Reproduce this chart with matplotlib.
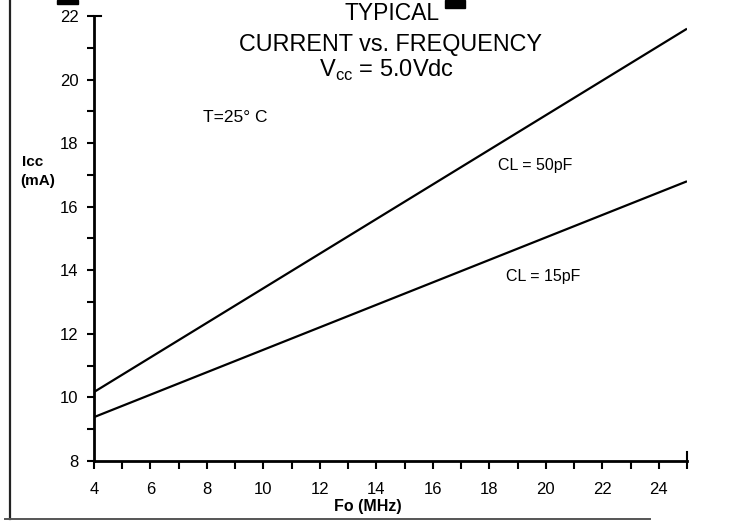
import numpy as np
import matplotlib
matplotlib.use('Agg')
import matplotlib.pyplot as plt
from matplotlib.lines import Line2D
from matplotlib.patches import Rectangle

plt.rcParams['font.family'] = ['Liberation Sans', 'DejaVu Sans']

# data
freq = [4, 25]                 # Fo (MHz)
icc_50pf = [10.17, 21.6]       # Icc (mA), CL = 50pF
icc_15pf = [9.38, 16.8]        # Icc (mA), CL = 15pF
xticks = np.arange(4, 25, 2)
yticks = np.arange(8, 23, 2)

W, H = 739, 525
fig = plt.figure(figsize=(W/100, H/100), dpi=100)
fig.patch.set_facecolor('white')

def fx(px):
    return px / W

def fy(py):
    return 1 - py / H

# axes placed so x=4..25 spans 94..687 px and y=8..22 spans 461..16 px
ax = fig.add_axes([fx(94), fy(461), fx(687) - fx(94), fy(16) - fy(461)])
ax.plot(freq, icc_50pf, color='black', lw=1.6, solid_capstyle='butt')
ax.plot(freq, icc_15pf, color='black', lw=1.6, solid_capstyle='butt')

ax.set_xlim(4, 25)
ax.set_ylim(8, 22)
for s in ['top', 'right']:
    ax.spines[s].set_visible(False)
for s in ['left', 'bottom']:
    ax.spines[s].set_linewidth(2.0)

ax.set_xticks(xticks)
ax.set_xticks(np.arange(5, 26, 2), minor=True)
ax.set_yticks(yticks)
ax.set_yticks(np.arange(9, 22, 2), minor=True)
ax.tick_params(which='both', direction='out', width=1.5, color='black')
ax.tick_params(axis='x', which='both', length=6)
ax.tick_params(axis='y', which='both', length=5)
ax.tick_params(axis='x', which='major', labelsize=12, pad=9)
ax.tick_params(axis='y', which='major', labelsize=12, pad=6)

# end marks crossing the axes at y=22 and x=25
ax.axhline(22, xmin=0, xmax=0.012, color='black', lw=1.5, clip_on=False)
ax.axvline(25, ymin=0, ymax=0.02, color='black', lw=1.5, clip_on=False)

# titles and annotations
fig.text(fx(392), fy(14), 'TYPICAL', fontsize=16.5, ha='center', va='center')
fig.text(fx(391), fy(44), 'CURRENT vs. FREQUENCY', fontsize=16.8, ha='center', va='center')
fig.text(fx(387), fy(70), r'V$_\mathregular{cc}$ = 5.0Vdc', fontsize=17, ha='center', va='center')
fig.text(fx(203), fy(117), 'T=25° C', fontsize=12.5, ha='left', va='center')
fig.text(fx(22), fy(162), 'Icc', fontsize=11, fontweight='bold', ha='left', va='center')
fig.text(fx(20), fy(181), '(mA)', fontsize=11, fontweight='bold', ha='left', va='center')
fig.text(fx(535), fy(166), 'CL = 50pF', fontsize=11.5, ha='center', va='center')
fig.text(fx(543), fy(276), 'CL = 15pF', fontsize=11.5, ha='center', va='center')
fig.text(fx(368), fy(506), 'Fo (MHz)', fontsize=11.5, fontweight='bold', ha='center', va='center')

# scan border and smudges
fig.add_artist(Line2D([fx(10), fx(10)], [fy(0), fy(519)], color='#222222', lw=1.6))
fig.add_artist(Line2D([fx(5), fx(650)], [fy(519), fy(519)], color='#555555', lw=1.4))
fig.add_artist(Rectangle((fx(57), fy(4)), fx(21), 4 / H, color='black'))
fig.add_artist(Rectangle((fx(445), fy(8)), fx(20), 8 / H, color='black'))

fig.savefig('out.png', dpi=100)
